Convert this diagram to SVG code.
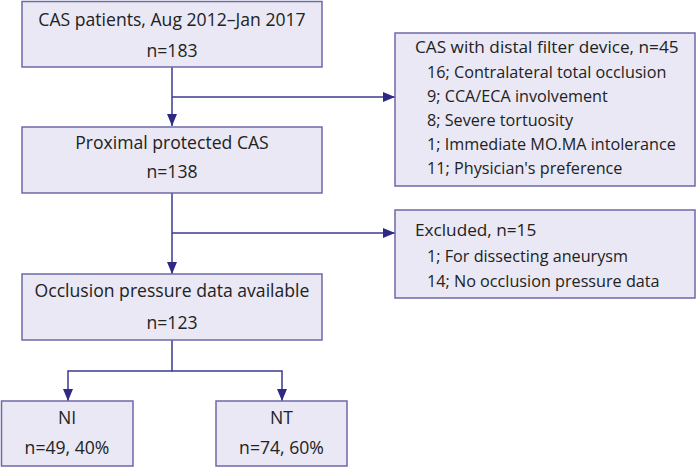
<svg xmlns="http://www.w3.org/2000/svg" width="697" height="468" viewBox="0 0 697 468">
<defs>
<style>
.box{fill:#e9e8f4;stroke:#6d69a8;stroke-width:1.5}
.t{font-family:"Open Sans","Noto Sans",sans-serif;font-size:17.6px;fill:#222}
.r{font-family:"Open Sans","Noto Sans",sans-serif;font-size:17.2px;fill:#222}
.s{font-family:"Open Sans","Noto Sans",sans-serif;font-size:16.2px;fill:#222}
.c{text-anchor:middle}
.ln{fill:none;stroke:#3e3a8e;stroke-width:1.5}
</style>
<marker id="ah" viewBox="0 0 12 10" refX="12" refY="5" markerWidth="12" markerHeight="10" markerUnits="userSpaceOnUse" orient="auto">
<path d="M0,0L12,5L0,10z" fill="#2e2a84"/>
</marker>
</defs>
<rect width="697" height="468" fill="#ffffff"/>
<g id="connectors">
<path class="ln" d="M172,67V126" marker-end="url(#ah)"/>
<path class="ln" d="M172,97H395" marker-end="url(#ah)"/>
<path class="ln" d="M172,193V274" marker-end="url(#ah)"/>
<path class="ln" d="M172,233H395" marker-end="url(#ah)"/>
<path class="ln" d="M172,340V371H68V401" marker-end="url(#ah)"/>
<path class="ln" d="M172,371H282V401" marker-end="url(#ah)"/>
</g>
<g id="n1">
<rect class="box" x="22" y="1.5" width="300" height="65.5"/>
<text class="t c" x="172" y="26">CAS patients, Aug 2012–Jan 2017</text>
<text class="t c" x="172" y="57">n=183</text>
</g>
<g id="n2">
<rect class="box" x="22" y="127" width="300" height="66"/>
<text class="t c" x="172" y="149">Proximal protected CAS</text>
<text class="t c" x="172" y="178">n=138</text>
</g>
<g id="n3">
<rect class="box" x="22" y="274" width="300" height="66"/>
<text class="t c" x="172" y="297">Occlusion pressure data available</text>
<text class="t c" x="172" y="329">n=123</text>
</g>
<g id="n4">
<rect class="box" x="1.5" y="401" width="131.5" height="65"/>
<text class="t c" x="67" y="424">NI</text>
<text class="t c" x="67" y="454">n=49, 40%</text>
</g>
<g id="n5">
<rect class="box" x="216" y="401" width="131" height="65"/>
<text class="t c" x="281.5" y="424">NT</text>
<text class="t c" x="281.5" y="454">n=74, 60%</text>
</g>
<g id="n6">
<rect class="box" x="395" y="33" width="300" height="153"/>
<text class="r" x="415" y="53">CAS with distal filter device, n=45</text>
<text class="s" x="427" y="78">16; Contralateral total occlusion</text>
<text class="s" x="427" y="102">9; CCA/ECA involvement</text>
<text class="s" x="427" y="126">8; Severe tortuosity</text>
<text class="s" x="427" y="150">1; Immediate MO.MA intolerance</text>
<text class="s" x="427" y="174">11; Physician's preference</text>
</g>
<g id="n7">
<rect class="box" x="395" y="210" width="300" height="88"/>
<text class="r" x="415" y="236">Excluded, n=15</text>
<text class="s" x="427" y="262">1; For dissecting aneurysm</text>
<text class="s" x="427" y="287">14; No occlusion pressure data</text>
</g>
</svg>
